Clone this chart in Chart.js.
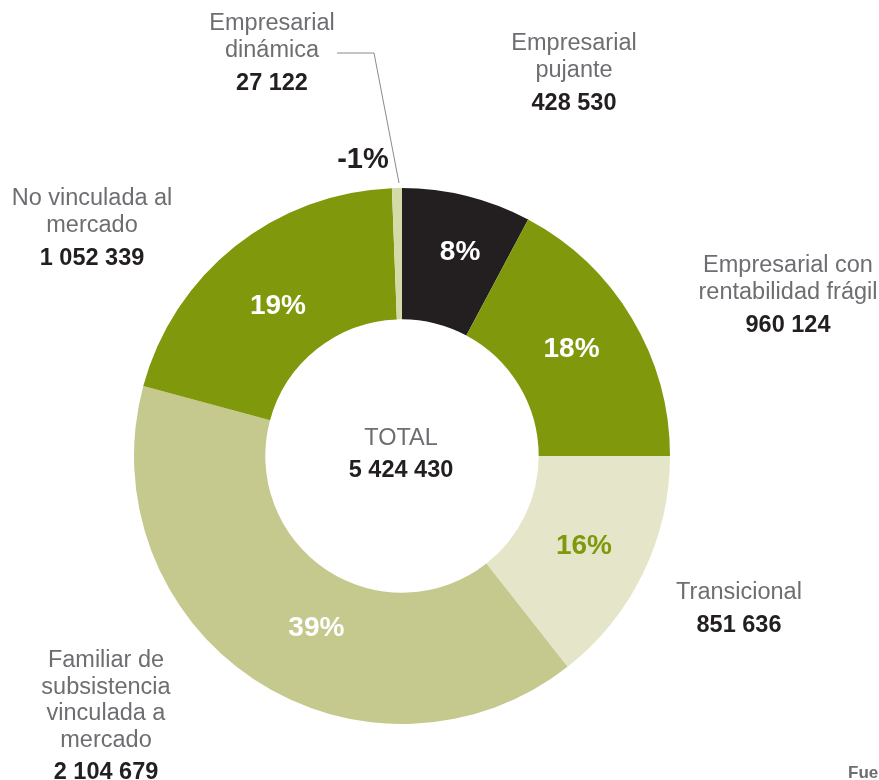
<!DOCTYPE html>
<html>
<head>
<meta charset="utf-8">
<script src="https://cdn.jsdelivr.net/npm/chart.js@4"></script>
<style>
  html, body { margin: 0; padding: 0; background: #fff; }
  #wrap { width: 879px; height: 780px; position: relative; }
</style>
</head>
<body>
<div id="wrap"><canvas id="chart" width="879" height="780"></canvas></div>
<script>
const categories = [
  "Empresarial pujante",
  "Empresarial con rentabilidad frágil",
  "Transicional",
  "Familiar de subsistencia vinculada a mercado",
  "No vinculada al mercado",
  "Empresarial dinámica"
];
// slice shares as drawn in the picture (%)
const shares = [7.8, 17.2, 14.4, 39.8, 20.2, 0.6];
const pctLabels = ["8%", "18%", "16%", "39%", "19%", "-1%"];
const valueLabels = ["428 530", "960 124", "851 636", "2 104 679", "1 052 339", "27 122"];
const totalLabel = "5 424 430";
const colors = ["#231f20", "#80990c", "#e5e5c9", "#c5c98e", "#80990c", "#d6daa8"];

const FONT = "'Liberation Sans', Arial, sans-serif";
const GRAY = "#6d6e71";
const DARK = "#231f20";

// outside label blocks
const outside = [
  { lines: ["Empresarial", "pujante"], x: 574, y: 44, num: 0 },
  { lines: ["Empresarial con", "rentabilidad frágil"], x: 788, y: 266, num: 1 },
  { lines: ["Transicional"], x: 739, y: 593, num: 2 },
  { lines: ["Familiar de", "subsistencia", "vinculada a", "mercado"], x: 106, y: 661, num: 3, gap: 26.4 },
  { lines: ["No vinculada al", "mercado"], x: 92, y: 199, num: 4 },
  { lines: ["Empresarial", "dinámica"], x: 272, y: 24, num: 5 }
];
// small nudges for the percentage labels
const pctNudge = [[9, -7], [-4, -3], [0, 2], [26, 4], [2, 9], null];

const labelsPlugin = {
  id: "labels",
  afterDraw(chart) {
    const ctx = chart.ctx;
    const meta = chart.getDatasetMeta(0);
    ctx.save();
    ctx.textAlign = "center";
    ctx.textBaseline = "middle";

    meta.data.forEach((arc, i) => {
      if (!pctNudge[i]) return;
      const p = arc.tooltipPosition();
      ctx.font = "bold 28px " + FONT;
      ctx.fillStyle = i === 2 ? "#80990c" : "#ffffff";
      ctx.fillText(pctLabels[i], p.x + pctNudge[i][0], p.y + pctNudge[i][1]);
    });

    // small slice label outside
    ctx.font = "bold 29px " + FONT;
    ctx.fillStyle = DARK;
    ctx.fillText(pctLabels[5], 363, 160);

    outside.forEach(o => {
      const gap = o.gap || 26.7;
      ctx.font = "23.5px " + FONT;
      ctx.fillStyle = GRAY;
      o.lines.forEach((t, k) => ctx.fillText(t, o.x, o.y + k * gap));
      ctx.font = "bold 23.5px " + FONT;
      ctx.fillStyle = DARK;
      ctx.fillText(valueLabels[o.num], o.x, o.y + o.lines.length * gap + 6);
    });

    // centre total
    ctx.font = "23.5px " + FONT;
    ctx.fillStyle = GRAY;
    ctx.fillText("TOTAL", 401, 439);
    ctx.font = "bold 23.5px " + FONT;
    ctx.fillStyle = DARK;
    ctx.fillText(totalLabel, 401, 471);

    // leader line for the thin slice
    ctx.strokeStyle = "#8a8a8a";
    ctx.lineWidth = 1;
    ctx.beginPath();
    ctx.moveTo(337, 53);
    ctx.lineTo(374, 53);
    ctx.lineTo(399, 183);
    ctx.stroke();

    // source note cut off at the edge
    ctx.font = "bold 17px " + FONT;
    ctx.fillStyle = GRAY;
    ctx.textAlign = "left";
    ctx.fillText("Fuente", 848, 773);
    ctx.restore();
  }
};

new Chart(document.getElementById("chart"), {
  type: "doughnut",
  data: {
    labels: categories,
    datasets: [{
      data: shares,
      backgroundColor: colors,
      borderWidth: 0
    }]
  },
  options: {
    responsive: false,
    animation: false,
    cutout: "51%",
    layout: { padding: { left: 134, right: 209, top: 188, bottom: 56 } },
    plugins: { legend: { display: false }, tooltip: { enabled: false } }
  },
  plugins: [labelsPlugin]
});
</script>
</body>
</html>
